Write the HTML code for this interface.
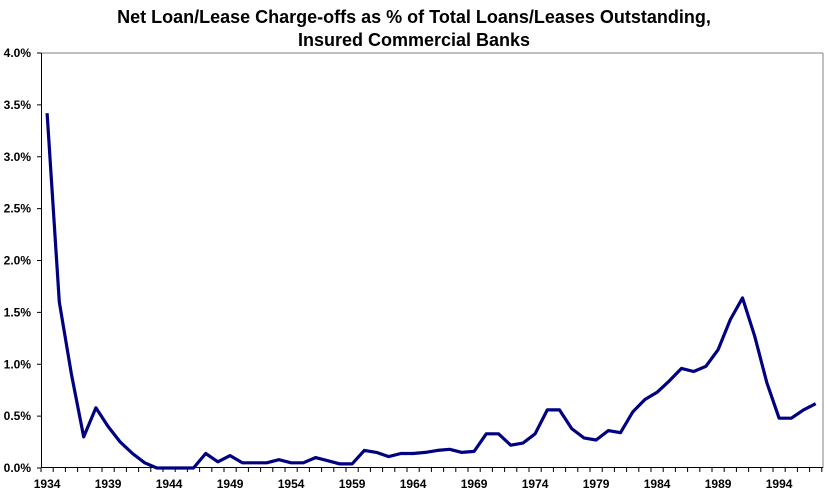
<!DOCTYPE html>
<html><head><meta charset="utf-8"><style>
html,body{margin:0;padding:0;background:#fff;}
svg{display:block;font-family:"Liberation Sans",Arial,sans-serif;}
</style></head><body>
<svg id="s" width="828" height="495" viewBox="0 0 828 495" xmlns="http://www.w3.org/2000/svg">
<text x="414" y="23" text-anchor="middle" font-size="18" font-weight="bold">Net Loan/Lease Charge-offs as % of Total Loans/Leases Outstanding,</text>
<text x="414" y="46" text-anchor="middle" font-size="18" font-weight="bold">Insured Commercial Banks</text>
<line x1="41" y1="53" x2="823" y2="53" stroke="#808080" stroke-width="1"/>
<line x1="823" y1="53" x2="823" y2="468" stroke="#808080" stroke-width="1"/>
<line x1="41.5" y1="53" x2="41.5" y2="468" stroke="#000" stroke-width="1"/>
<line x1="41" y1="467.5" x2="823" y2="467.5" stroke="#000" stroke-width="1"/>
<g id="g" font-size="12" font-weight="bold"></g>
<polyline id="p" fill="none" stroke="#000080" stroke-width="3.2" stroke-linejoin="round"/>
</svg>
<script>
var d=[3.42,1.6,0.9,0.3,0.58,0.4,0.25,0.14,0.05,0,0,0,0,0.14,0.06,0.12,0.05,0.05,0.05,0.08,0.05,0.05,0.1,0.07,0.04,0.04,0.17,0.15,0.11,0.14,0.14,0.15,0.17,0.18,0.15,0.16,0.33,0.33,0.22,0.24,0.33,0.56,0.56,0.38,0.29,0.27,0.36,0.34,0.54,0.66,0.73,0.84,0.96,0.93,0.98,1.14,1.43,1.64,1.27,0.82,0.48,0.48,0.56,0.62];
var x0=41,dx=12.2,y0=468,k=103.75,pts=[];
for(var i=0;i<d.length;i++)pts.push((x0+dx/2+i*dx).toFixed(1)+","+(y0-d[i]*k).toFixed(1));
document.getElementById('p').setAttribute('points',pts.join(' '));
var g=document.getElementById('g'),h='';
for(var v=0;v<=8;v++){var y=y0-v*0.5*k;h+='<line x1="37" y1="'+y+'" x2="41" y2="'+y+'" stroke="#000"/>';h+='<text x="31" y="'+(y+4)+'" text-anchor="end">'+(v*0.5).toFixed(1)+'%</text>';}
for(var i=0;i<=64;i++){var x=x0+i*dx;h+='<line x1="'+x+'" y1="468" x2="'+x+'" y2="472" stroke="#000"/>';if(i%5==0&&i<64)h+='<text x="'+(x+dx/2)+'" y="488" text-anchor="middle">'+(1934+i)+'</text>';}
g.innerHTML=h;
</script>
</body></html>
